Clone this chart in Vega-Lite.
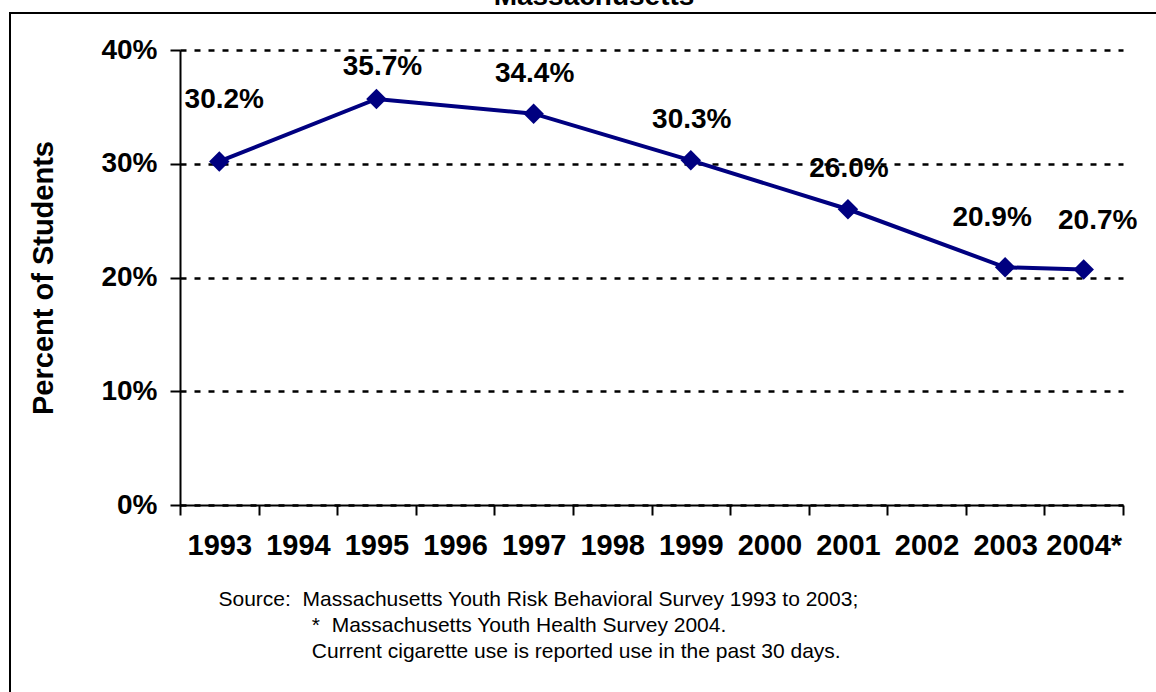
{
  "$schema": "https://vega.github.io/schema/vega-lite/v6.json",
  "autosize": {"type": "none"},
  "padding": {"left": 10, "top": 13, "right": -10, "bottom": -10},
  "width": 1156,
  "height": 689,
  "background": "white",
  "config": {
    "view": {"stroke": "black", "strokeWidth": 2},
    "font": "Liberation Sans"
  },
  "title": {
    "text": "Massachusetts",
    "font": "Liberation Sans",
    "fontSize": 28,
    "fontWeight": "bold",
    "color": "black",
    "anchor": "middle",
    "frame": "group",
    "baseline": "alphabetic",
    "offset": 5,
    "dx": 6,
    "dy": 25
  },
  "data": {
    "values": [
      {"year": "1993", "pct": 0.302},
      {"year": "1995", "pct": 0.357},
      {"year": "1997", "pct": 0.344},
      {"year": "1999", "pct": 0.303},
      {"year": "2001", "pct": 0.260},
      {"year": "2003", "pct": 0.209},
      {"year": "2004*", "pct": 0.207}
    ]
  },
  "encoding": {
    "x": {
      "field": "year",
      "type": "ordinal",
      "sort": null,
      "scale": {
        "type": "band",
        "domain": ["1993", "1994", "1995", "1996", "1997", "1998", "1999", "2000", "2001", "2002", "2003", "2004*"],
        "range": [170, 1113],
        "paddingInner": 0,
        "paddingOuter": 0
      },
      "axis": {
        "orient": "bottom",
        "offset": -197,
        "tickBand": "extent",
        "tickSize": 10,
        "tickWidth": 2,
        "tickColor": "black",
        "domainColor": "black",
        "domainWidth": 2,
        "grid": false,
        "labelAngle": 0,
        "labelFont": "Liberation Sans",
        "labelFontSize": 29,
        "labelFontWeight": "bold",
        "labelColor": "black",
        "labelPadding": 16,
        "labelOverlap": false,
        "title": [
          "Source:\u00a0\u00a0Massachusetts Youth Risk Behavioral Survey 1993 to 2003;",
          "\u200b\u00a0\u00a0\u00a0\u00a0\u00a0\u00a0\u00a0\u00a0\u00a0\u00a0\u00a0\u00a0\u00a0\u00a0\u00a0\u00a0*\u00a0\u00a0Massachusetts Youth Health Survey 2004.",
          "\u200b\u00a0\u00a0\u00a0\u00a0\u00a0\u00a0\u00a0\u00a0\u00a0\u00a0\u00a0\u00a0\u00a0\u00a0\u00a0\u00a0Current cigarette use is reported use in the past 30 days."
        ],
        "titleFont": "Liberation Sans",
        "titleFontSize": 21,
        "titleFontWeight": "normal",
        "titleColor": "black",
        "titleAlign": "left",
        "titleBaseline": "alphabetic",
        "titleLineHeight": 26,
        "titleX": 208,
        "titleY": 100
      }
    },
    "y": {
      "field": "pct",
      "type": "quantitative",
      "scale": {"domain": [0, 0.4], "range": [492, 37], "nice": false},
      "axis": {
        "orient": "left",
        "offset": -170,
        "values": [0, 0.1, 0.2, 0.3, 0.4],
        "format": ".0%",
        "tickSize": 10,
        "tickWidth": 2,
        "tickColor": "black",
        "domainColor": "black",
        "domainWidth": 2,
        "grid": true,
        "gridColor": "black",
        "gridWidth": 2.5,
        "gridDash": [6, 8],
        "labelFont": "Liberation Sans",
        "labelFontSize": 28,
        "labelFontWeight": "bold",
        "labelColor": "black",
        "labelPadding": 13,
        "title": "Percent of Students",
        "titleFont": "Liberation Sans",
        "titleFontSize": 29,
        "titleFontWeight": "bold",
        "titleColor": "black",
        "titlePadding": 42
      }
    }
  },
  "layer": [
    {
      "mark": {
        "type": "line",
        "color": "#000080",
        "strokeWidth": 4,
        "point": {"shape": "diamond", "size": 420, "filled": true, "color": "#000080", "opacity": 1}
      }
    },
    {
      "transform": [{"filter": "datum.year == '1993'"}],
      "mark": {"type": "text", "font": "Liberation Sans", "fontSize": 28, "fontWeight": "bold", "color": "black", "baseline": "middle", "align": "center", "dx": 5, "dy": -61},
      "encoding": {"text": {"field": "pct", "type": "quantitative", "format": ".1%"}}
    },
    {
      "transform": [{"filter": "datum.year == '1995'"}],
      "mark": {"type": "text", "font": "Liberation Sans", "fontSize": 28, "fontWeight": "bold", "color": "black", "baseline": "middle", "align": "center", "dx": 6, "dy": -32},
      "encoding": {"text": {"field": "pct", "type": "quantitative", "format": ".1%"}}
    },
    {
      "transform": [{"filter": "datum.year == '1997' || datum.year == '1999' || datum.year == '2001'"}],
      "mark": {"type": "text", "font": "Liberation Sans", "fontSize": 28, "fontWeight": "bold", "color": "black", "baseline": "middle", "align": "center", "dx": 1, "dy": -40},
      "encoding": {"text": {"field": "pct", "type": "quantitative", "format": ".1%"}}
    },
    {
      "transform": [{"filter": "datum.year == '2003'"}],
      "mark": {"type": "text", "font": "Liberation Sans", "fontSize": 28, "fontWeight": "bold", "color": "black", "baseline": "middle", "align": "center", "dx": -13, "dy": -49},
      "encoding": {"text": {"field": "pct", "type": "quantitative", "format": ".1%"}}
    },
    {
      "transform": [{"filter": "datum.year == '2004*'"}],
      "mark": {"type": "text", "font": "Liberation Sans", "fontSize": 28, "fontWeight": "bold", "color": "black", "baseline": "middle", "align": "center", "dx": 14, "dy": -49},
      "encoding": {"text": {"field": "pct", "type": "quantitative", "format": ".1%"}}
    }
  ]
}
